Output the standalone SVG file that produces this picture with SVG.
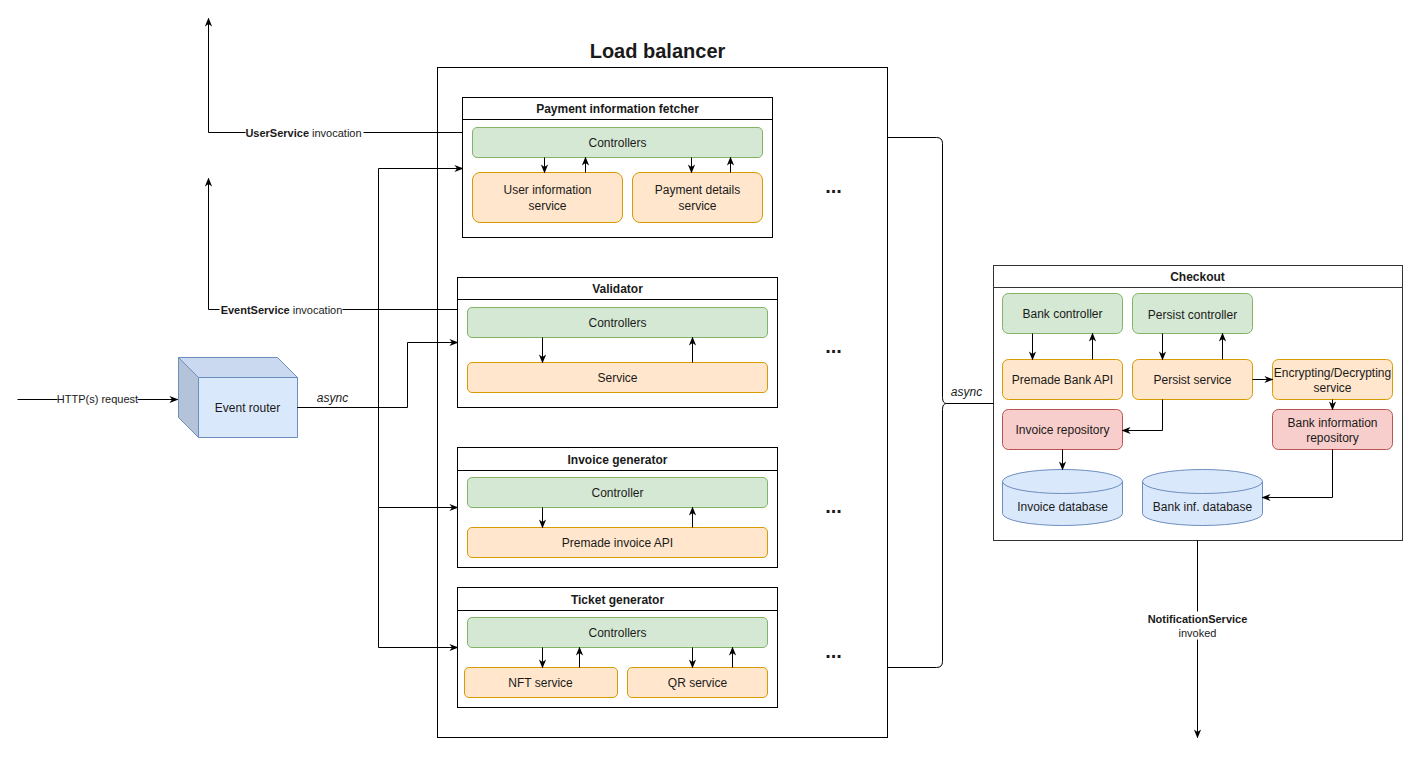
<svg xmlns="http://www.w3.org/2000/svg" width="1413" height="758" viewBox="0 0 1413 758">
<style>
text{font-family:"Liberation Sans",Arial,sans-serif;fill:#1a1a1a}
.c{text-anchor:middle;dominant-baseline:central}
.n{font-size:12px}
.h{font-size:12px;font-weight:bold}
.e{font-size:11px}
.box{fill:#fff;stroke:#000;stroke-width:1}
.g{fill:#d5e8d4;stroke:#82b366}
.o{fill:#ffe6cc;stroke:#d79b00}
.r{fill:#f8cecc;stroke:#b85450}
.b{fill:#dae8fc;stroke:#6c8ebf}
.ln{fill:none;stroke:#000;stroke-width:1}
.a{marker-end:url(#arr)}
.bg{fill:#fff}
.dots{font-size:20px;font-weight:bold;text-anchor:middle}
</style>
<defs>
<marker id="arr" viewBox="0 0 10 10" refX="9" refY="5" markerWidth="9" markerHeight="9" markerUnits="userSpaceOnUse" orient="auto">
<path d="M0,1 L10,5 L0,9 L3,5 z" fill="#000"/>
</marker>
</defs>
<rect width="1413" height="758" fill="#fff"/>
<g transform="translate(0.5 0.5)">

<g id="load-balancer">
<rect class="box" x="437" y="67" width="450" height="670"/>
<text class="c" x="657" y="50" style="font-size:20px;font-weight:bold">Load balancer</text>
<text class="dots" x="833" y="192">...</text>
<text class="dots" x="833" y="352">...</text>
<text class="dots" x="833" y="512">...</text>
<text class="dots" x="833" y="657">...</text>
</g>

<g id="payment-fetcher">
<rect class="box" x="462" y="97" width="310" height="140"/>
<line class="ln" x1="462" y1="119" x2="772" y2="119"/>
<text class="c h" x="617" y="108">Payment information fetcher</text>
<rect class="g" x="472" y="127" width="290" height="30" rx="4.5"/>
<text class="c n" x="617" y="142">Controllers</text>
<rect class="o" x="472" y="172" width="150" height="50" rx="7.5"/>
<text class="c n" x="547" y="189">User information</text>
<text class="c n" x="547" y="205">service</text>
<rect class="o" x="632" y="172" width="130" height="50" rx="7.5"/>
<text class="c n" x="697" y="189">Payment details</text>
<text class="c n" x="697" y="205">service</text>
</g>

<g id="validator">
<rect class="box" x="457" y="277" width="320" height="130"/>
<line class="ln" x1="457" y1="299" x2="777" y2="299"/>
<text class="c h" x="617" y="288">Validator</text>
<rect class="g" x="467" y="307" width="300" height="30" rx="4.5"/>
<text class="c n" x="617" y="322">Controllers</text>
<rect class="o" x="467" y="362" width="300" height="30" rx="4.5"/>
<text class="c n" x="617" y="377">Service</text>
</g>

<g id="invoice-generator">
<rect class="box" x="457" y="447" width="320" height="120"/>
<line class="ln" x1="457" y1="470" x2="777" y2="470"/>
<text class="c h" x="617" y="459">Invoice generator</text>
<rect class="g" x="467" y="477" width="300" height="30" rx="4.5"/>
<text class="c n" x="617" y="492">Controller</text>
<rect class="o" x="467" y="527" width="300" height="30" rx="4.5"/>
<text class="c n" x="617" y="542">Premade invoice API</text>
</g>

<g id="ticket-generator">
<rect class="box" x="457" y="587" width="320" height="120"/>
<line class="ln" x1="457" y1="610" x2="777" y2="610"/>
<text class="c h" x="617" y="599">Ticket generator</text>
<rect class="g" x="467" y="617" width="300" height="30" rx="4.5"/>
<text class="c n" x="617" y="632">Controllers</text>
<rect class="o" x="464" y="667" width="153" height="30" rx="4.5"/>
<text class="c n" x="540" y="682">NFT service</text>
<rect class="o" x="627" y="667" width="140" height="30" rx="4.5"/>
<text class="c n" x="697" y="682">QR service</text>
</g>

<g id="event-router">
<polygon points="198,377 297,377 297,437 198,437" fill="#dae8fc" stroke="#6c8ebf"/>
<polygon points="178,357 277,357 297,377 198,377" fill="#cad9ef" stroke="#6c8ebf"/>
<polygon points="178,357 198,377 198,437 178,417" fill="#b5c3d9" stroke="#6c8ebf"/>
<text class="c n" x="247" y="407">Event router</text>
</g>

<g id="checkout">
<rect class="box" x="993" y="265" width="409" height="275" style="stroke:#333"/>
<line class="ln" x1="993" y1="287" x2="1402" y2="287" style="stroke:#333"/>
<text class="c h" x="1197" y="276">Checkout</text>
<rect class="g" x="1002" y="293" width="120" height="40" rx="6"/>
<text class="c n" x="1062" y="313">Bank controller</text>
<rect class="g" x="1132" y="293" width="120" height="40" rx="6"/>
<text class="c n" x="1192" y="314">Persist controller</text>
<rect class="o" x="1002" y="359" width="120" height="40" rx="6"/>
<text class="c n" x="1062" y="379">Premade Bank API</text>
<rect class="o" x="1132" y="359" width="120" height="40" rx="6"/>
<text class="c n" x="1192" y="379">Persist service</text>
<rect class="o" x="1272" y="359" width="120" height="40" rx="6"/>
<text class="c n" x="1332" y="372">Encrypting/Decrypting</text>
<text class="c n" x="1332" y="387">service</text>
<rect class="r" x="1002" y="409" width="120" height="40" rx="6"/>
<text class="c n" x="1062" y="429">Invoice repository</text>
<rect class="r" x="1272" y="409" width="120" height="40" rx="6"/>
<text class="c n" x="1332" y="422">Bank information</text>
<text class="c n" x="1332" y="437">repository</text>
<path class="b" d="M1002,481 A60,12 0 0 1 1122,481 V513 A60,12 0 0 1 1002,513 Z"/>
<path d="M1002,481 A60,12 0 0 0 1122,481" fill="none" stroke="#6c8ebf"/>
<text class="c n" x="1062" y="506">Invoice database</text>
<path class="b" d="M1142,481 A60,12 0 0 1 1262,481 V513 A60,12 0 0 1 1142,513 Z"/>
<path d="M1142,481 A60,12 0 0 0 1262,481" fill="none" stroke="#6c8ebf"/>
<text class="c n" x="1202" y="506">Bank inf. database</text>
</g>

<g id="connectors">
<path class="ln a" d="M462,132 H208 V18"/>
<rect class="bg" x="245" y="125" width="118" height="14"/>
<text class="c e" x="303" y="132"><tspan font-weight="bold">UserService</tspan> invocation</text>
<path class="ln a" d="M457,309 H208 V178"/>
<rect class="bg" x="219" y="302" width="123" height="14"/>
<text class="c e" x="281" y="309"><tspan font-weight="bold">EventService</tspan> invocation</text>
<path class="ln a" d="M17,399 H177"/>
<rect class="bg" x="57" y="392" width="80" height="14"/>
<text class="c e" x="97" y="398">HTTP(s) request</text>
<path class="ln a" d="M297,407 H378 V168 H462"/>
<path class="ln a" d="M378,407 V507 H457"/>
<path class="ln a" d="M378,507 V647 H457"/>
<path class="ln a" d="M297,407 H407 V342 H457"/>
<text class="c" x="332" y="397" style="font-size:12px;font-style:italic">async</text>

<path class="ln a" d="M544,157 V172"/>
<path class="ln a" d="M585,172 V157"/>
<path class="ln a" d="M691,157 V172"/>
<path class="ln a" d="M730,172 V157"/>
<path class="ln a" d="M542,337 V362"/>
<path class="ln a" d="M692,362 V337"/>
<path class="ln a" d="M542,507 V527"/>
<path class="ln a" d="M692,527 V507"/>
<path class="ln a" d="M542,647 V667"/>
<path class="ln a" d="M579,667 V647"/>
<path class="ln a" d="M692,647 V667"/>
<path class="ln a" d="M732,667 V647"/>

<path class="ln" d="M887,137 H936 Q942,137 942,143 V397 Q942,403 946,403 Q942,403 942,409 V661 Q942,667 936,667 H887"/>
<path class="ln" d="M946,403 H993"/>
<text class="c" x="966" y="391" style="font-size:12px;font-style:italic">async</text>

<path class="ln a" d="M1032,333 V359"/>
<path class="ln a" d="M1092,359 V333"/>
<path class="ln a" d="M1162,333 V359"/>
<path class="ln a" d="M1222,359 V333"/>
<path class="ln a" d="M1252,379 H1272"/>
<path class="ln a" d="M1162,399 V430 H1122"/>
<path class="ln a" d="M1332,399 V409"/>
<path class="ln a" d="M1062,449 V469"/>
<path class="ln a" d="M1332,449 V497 H1262"/>

<path class="ln a" d="M1197,540 V737"/>
<rect class="bg" x="1145" y="611" width="104" height="28"/>
<text class="c e" x="1197" y="618" font-weight="bold">NotificationService</text>
<text class="c e" x="1197" y="632">invoked</text>
</g>
</g>
</svg>
